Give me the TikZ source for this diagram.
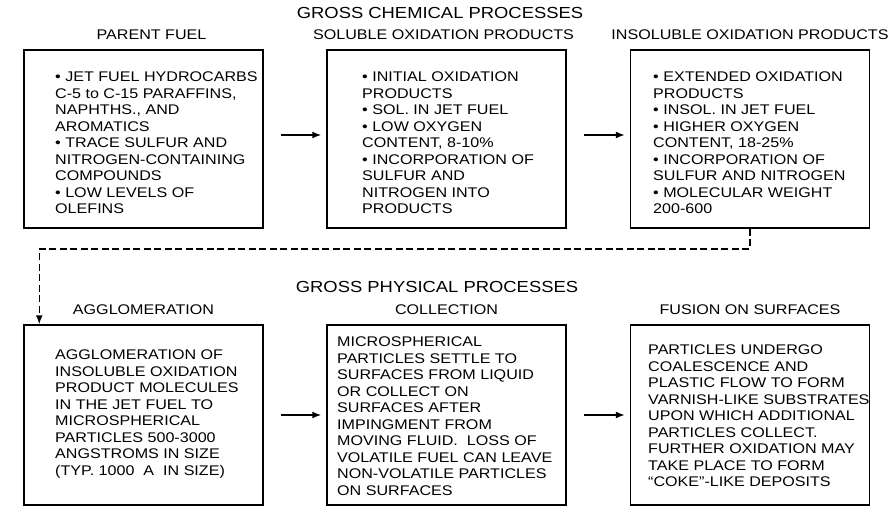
\documentclass[tikz,border=0pt]{standalone}
\usepackage{fontspec}
\setmainfont{Liberation Sans}[FakeStretch=1.15]
\usepackage{tikz}
\usetikzlibrary{arrows.meta}
\usetikzlibrary{calc,positioning}

\begin{document}
\begin{tikzpicture}[x=1pt,y=-1pt,node distance=9pt,
	proc_box/.style={draw,line width=1.5pt,minimum width=239pt,minimum height=178pt,inner sep=0pt},
	box_head/.style={inner sep=0pt,font=\fontsize{14}{16}\selectfont},
	box_text/.style={anchor=north west,align=left,inner sep=0pt,font=\fontsize{14}{16.5}\selectfont},
	gross_head/.style={inner sep=0pt,font=\fontsize{16}{18}\selectfont},
	flow/.style={-{Latex[length=9pt,width=7pt]},line width=1.4pt,shorten <=17pt,shorten >=5pt}]
				\useasboundingbox (0,0) rectangle (892,506);
				% chemical processes
				\node[gross_head](chem) at (440,13){GROSS CHEMICAL PROCESSES};
				\node[proc_box](b1) at (143.5,139){};
				\node[proc_box](b2) at (446.5,139){};
				\node[proc_box](b3) at (750,139){};
				\node[box_head, above=of b1, xshift=8pt](h1){PARENT FUEL};
				\node[box_head, above=of b2, xshift=-3pt](h2){SOLUBLE OXIDATION PRODUCTS};
				\node[box_head, above=of b3](h3){INSOLUBLE OXIDATION PRODUCTS};
				\node[box_text](t1) at (55,72){• JET FUEL HYDROCARBS\\C-5 to C-15 PARAFFINS,\\NAPHTHS., AND\\AROMATICS\\• TRACE SULFUR AND\\NITROGEN-CONTAINING\\COMPOUNDS\\• LOW LEVELS OF\\OLEFINS};
				\node[box_text](t2) at (362,72){• INITIAL OXIDATION\\PRODUCTS\\• SOL. IN JET FUEL\\• LOW OXYGEN\\CONTENT, 8-10\%\\• INCORPORATION OF\\SULFUR AND\\NITROGEN INTO\\PRODUCTS};
				\node[box_text](t3) at (653,72){• EXTENDED OXIDATION\\PRODUCTS\\• INSOL. IN JET FUEL\\• HIGHER OXYGEN\\CONTENT, 18-25\%\\• INCORPORATION OF\\SULFUR AND NITROGEN\\• MOLECULAR WEIGHT\\200-600};
				% physical processes
				\node[gross_head](phys) at (437,287){GROSS PHYSICAL PROCESSES};
				\node[proc_box, minimum height=180pt](b4) at (143.5,415){};
				\node[proc_box, minimum height=180pt](b5) at (446.5,415){};
				\node[proc_box, minimum height=180pt](b6) at (750,415){};
				\node[box_head, above=of b4](h4){AGGLOMERATION};
				\node[box_head, above=of b5](h5){COLLECTION};
				\node[box_head, above=of b6](h6){FUSION ON SURFACES};
				\node[box_text](t4) at (55,350){AGGLOMERATION OF\\INSOLUBLE OXIDATION\\PRODUCT MOLECULES\\IN THE JET FUEL TO\\MICROSPHERICAL\\PARTICLES 500-3000\\ANGSTROMS IN SIZE\\(TYP. 1000\ \ A\ \ IN SIZE)};
				\node[box_text](t5) at (337,337){MICROSPHERICAL\\PARTICLES SETTLE TO\\SURFACES FROM LIQUID\\OR COLLECT ON\\SURFACES AFTER\\IMPINGMENT FROM\\MOVING FLUID.\ \ LOSS OF\\VOLATILE FUEL CAN LEAVE\\NON-VOLATILE PARTICLES\\ON SURFACES};
				\node[box_text](t6) at (648,345){PARTICLES UNDERGO\\COALESCENCE AND\\PLASTIC FLOW TO FORM\\VARNISH-LIKE SUBSTRATES\\UPON WHICH ADDITIONAL\\PARTICLES COLLECT.\\FURTHER OXIDATION MAY\\TAKE PLACE TO FORM\\“COKE”-LIKE DEPOSITS};
				\path[flow]
				([yshift=4pt]b1.east) edge ([yshift=4pt]b2.west)
				([yshift=4pt]b2.east) edge ([yshift=4pt]b3.west)
				(b4) edge (b5)
				(b5) edge (b6);
				\draw[-{Latex[length=9pt,width=7pt]},line width=1.5pt,dash pattern=on 7pt off 3.5pt] (b3.south) -- ++(0,20) -| ([xshift=16pt]b4.north west);
			\end{tikzpicture}
\end{document}
